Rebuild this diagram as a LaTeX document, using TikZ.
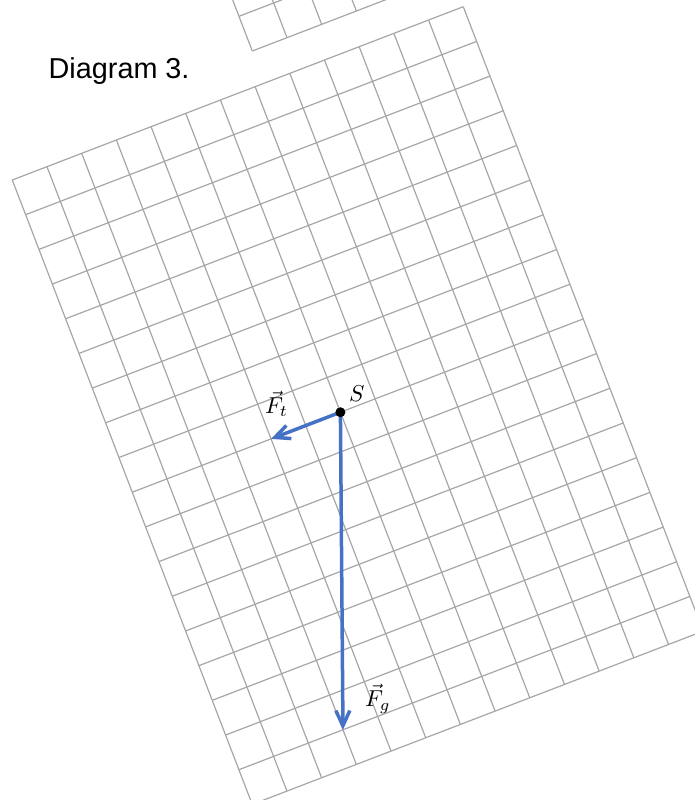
\documentclass[tikz,border=0pt]{standalone}
\usepackage{graphicx}
\usepackage{fontspec}
\newfontfamily\arialfont{Liberation Sans}
\usetikzlibrary{arrows.meta}
\definecolor{gridgray}{RGB}{166,166,166}
\definecolor{vecblue}{RGB}{68,114,196}
\tikzset{
  gridline/.style={draw=gridgray, line width=1.2pt},
  forcevec/.style={draw=vecblue, line width=3.5pt,
    -{Straight Barb[length=15pt, width=14pt]}},
  mathlabel/.style={anchor=base west, inner sep=0pt},
  dotnode/.style={circle, fill=black, inner sep=0pt, minimum size=10pt}
}
\begin{document}
\begin{tikzpicture}[x=1pt, y=-1pt]
\useasboundingbox (0,0) rectangle (695,800);
\clip (0,0) rectangle (695,800);
% partial grid at the top
\begin{scope}[shift={(252.3,51)}, x={(34.69pt,13.33pt)}, y={(13.33pt,-34.69pt)}]
  \foreach \i in {0,...,6} \draw[gridline] (\i,-3) -- (\i,0);
  \foreach \j in {-3,...,0} \draw[gridline] (0,\j) -- (6,\j);
\end{scope}
% main grid
\begin{scope}[shift={(12.3,180.0)}, x={(34.69pt,13.33pt)}, y={(13.33pt,-34.69pt)}]
  \foreach \i in {0,...,13} \draw[gridline] (\i,0) -- (\i,18);
  \foreach \j in {0,...,18} \draw[gridline] (0,\j) -- (13,\j);
  \coordinate (S) at (6,9);
  \coordinate (Ftip) at (4,9);
  \coordinate (Fgtip) at (3,17);
\end{scope}
% caption
\node[anchor=base west, inner sep=0pt, font=\arialfont\fontsize{28.8}{34}\selectfont] (cap) at (48.5,78.3) {Diagram 3.};
% vectors
\draw[forcevec] (S) -- (Ftip);
\draw[forcevec] (S) -- (Fgtip);
\node[dotnode] (Sdot) at (S) {};
% labels
\node[mathlabel] (Slab) at (349,401.7) {\scalebox{2.3}{$S$}};
\node[mathlabel] (Ftlab) at (265,413.3) {\scalebox{2.3}{$\vec{F}_t$}};
\node[mathlabel] (Fglab) at (365,706.7) {\scalebox{2.3}{$\vec{F}_g$}};
\end{tikzpicture}
\end{document}
